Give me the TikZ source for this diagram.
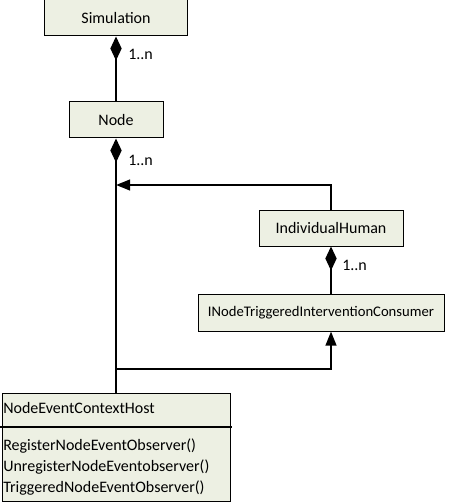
\documentclass[tikz,border=0pt]{standalone}
\usepackage{fontspec}
\setmainfont{Carlito}
\usetikzlibrary{arrows.meta}
\definecolor{fondoclase}{RGB}{237,240,227}

\begin{document}
\begin{tikzpicture}[x=0.75pt,y=-0.75pt,
    font=\fontsize{12}{15.75}\selectfont,
    clase/.style={draw, line width=0.75pt, fill=fondoclase, inner sep=0pt},
    enlace/.style={line width=1.5pt},
    comp/.style={enlace, {Diamond[length=18pt,width=8.5pt]}-},
    hereda/.style={enlace, -{Triangle[length=10.5pt,width=8pt]}},
    mult/.style={anchor=base west, inner sep=0pt}]
    \useasboundingbox (0,0) rectangle (466,502);

    % Clases
    \node[clase, minimum width=107.25pt, minimum height=27pt] (sim) at (116,18) {Simulation};
    \node[clase, minimum width=70.5pt, minimum height=27pt] (node) at (116,120) {Node};
    \node[clase, minimum width=108pt, minimum height=27pt] (ih) at (331,228) {IndividualHuman};
    \node[clase, minimum width=184.5pt, minimum height=27.75pt, font=\fontsize{11}{14}\selectfont] (inode) at (321,312.5) {INodeTriggeredInterventionConsumer};
    \node[clase, minimum width=171pt, minimum height=81pt] (host) at (116,447) {};

    % Contenido de NodeEventContextHost
    \coordinate (sep) at (0,427);
    \draw[enlace] ([xshift=-1.5pt]host.west |- sep) -- ([xshift=0.75pt]host.east |- sep);
    \node[mult] (hostname) at (3,413) {NodeEventContextHost};
    \foreach \metodo [count=\i] in {RegisterNodeEventObserver(),UnregisterNodeEventobserver(),TriggeredNodeEventObserver()}
        \node[mult] (op\i) at (3,429+21*\i) {\metodo};

    % Composiciones
    \draw[comp] (sim.south) -- (node.north);
    \draw[comp] (node.south) -- (host.north);
    \draw[comp] (ih.south) -- (ih.south |- inode.north);
    \node[mult] (m1) at (128,60) {1..n};
    \node[mult] (m2) at (128,166) {1..n};
    \node[mult] (m3) at (342,270) {1..n};

    % Flechas
    \coordinate (junta1) at (116,185);
    \coordinate (junta2) at (116,369);
    \draw[hereda] (ih.north) |- (junta1);
    \draw[hereda] (junta2) -| (ih.south |- inode.south);
\end{tikzpicture}
\end{document}
